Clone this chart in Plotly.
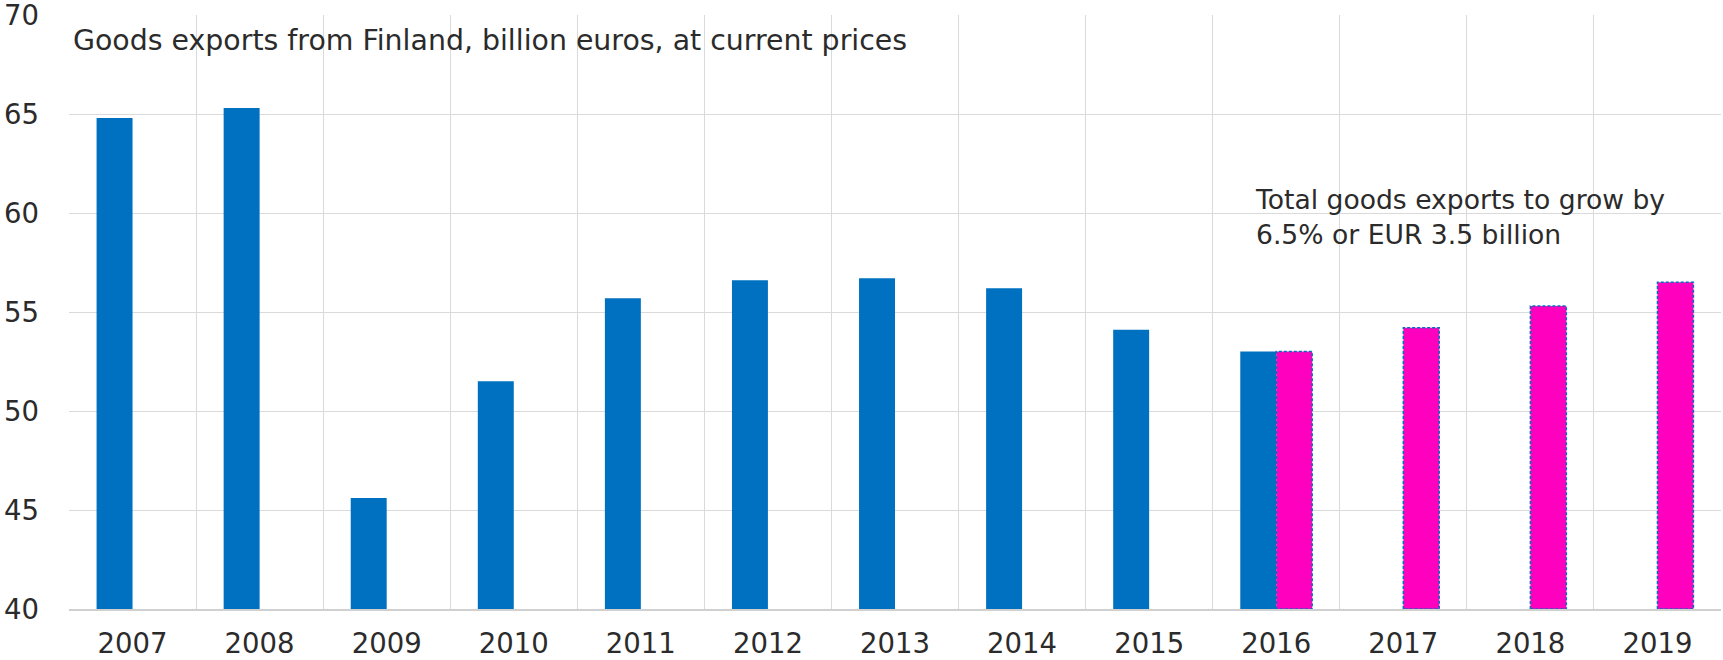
import plotly.graph_objects as go

years = [2007, 2008, 2009, 2010, 2011, 2012, 2013, 2014, 2015, 2016, 2017, 2018, 2019]
actual_years = [2007, 2008, 2009, 2010, 2011, 2012, 2013, 2014, 2015, 2016]
actual_values = [64.8, 65.3, 45.6, 51.5, 55.7, 56.6, 56.7, 56.2, 54.1, 53.0]
forecast_years = [2016, 2017, 2018, 2019]
forecast_values = [53.0, 54.2, 55.3, 56.5]
tick_labels = [str(y) for y in years]

title_text = "Goods exports from Finland, billion euros, at current prices"
note_text = "Total goods exports to grow by<br>6.5% or EUR 3.5 billion"

BLUE = "#0070C0"
MAGENTA = "#FF00BF"
GRID = "#DADADA"
TEXT = "#2B2B2B"
FONT = "DejaVu Sans"
BW = 0.283  # bar width in category units
Y0 = 40

fig = go.Figure()
fig.add_trace(go.Bar(x=actual_years, y=[v - Y0 for v in actual_values], base=Y0,
                     width=BW, offset=-BW, marker=dict(color=BLUE, line=dict(width=0)),
                     showlegend=False, hoverinfo="skip"))
fig.add_trace(go.Bar(x=forecast_years, y=[v - Y0 for v in forecast_values], base=Y0,
                     width=BW, offset=0, marker=dict(color=MAGENTA, line=dict(width=0)),
                     showlegend=False, hoverinfo="skip"))

# dotted outline around forecast bars, derived from the data
bx, by = [], []
for yr, v in zip(forecast_years, forecast_values):
    bx += [yr, yr, yr + BW, yr + BW, yr, None]
    by += [Y0, v, v, Y0, Y0, None]
fig.add_trace(go.Scatter(x=bx, y=by, mode="lines", cliponaxis=False,
                         line=dict(color=BLUE, width=1.5, dash="3px,2px"),
                         showlegend=False, hoverinfo="skip"))

fig.update_layout(
    width=1723, height=660,
    margin=dict(l=69, r=2, t=15, b=51),
    paper_bgcolor="white", plot_bgcolor="white",
    barmode="overlay",
    font=dict(family=FONT, size=27.5, color=TEXT),
    xaxis=dict(range=[2006.5, 2019.5], tickvals=years, ticktext=tick_labels,
               showgrid=False, zeroline=False, ticks="", automargin=False,
               showline=True, linecolor="#D0D0D0", linewidth=2,
               ticklabelstandoff=9, ticklabeloverflow="allow",
               minor=dict(tick0=2006.5, dtick=1, showgrid=True, gridcolor=GRID, gridwidth=1, ticks="")),
    yaxis=dict(range=[40, 70], tickvals=[40, 45, 50, 55, 60, 65, 70], showgrid=True,
               gridcolor=GRID, gridwidth=1, zeroline=False, ticks="", showline=False,
               automargin=False, ticklabelstandoff=29, ticklabeloverflow="allow"),
    annotations=[
        dict(text=title_text, xref="paper", yref="paper", x=0, y=1, xanchor="left", yanchor="top",
             xshift=1.5, yshift=-6.5, showarrow=False, align="left", font=dict(size=28.4, color=TEXT, family=FONT)),
        dict(text=note_text, xref="x", yref="y", x=2015.84, y=59.8, xanchor="left", yanchor="middle",
             xshift=-3, showarrow=False, align="left", font=dict(size=26.6, color=TEXT, family=FONT)),
    ],
)

fig.write_html("out.html", config={"displayModeBar": False},
               post_script="document.body.style.margin='0';document.body.style.padding='0';")
